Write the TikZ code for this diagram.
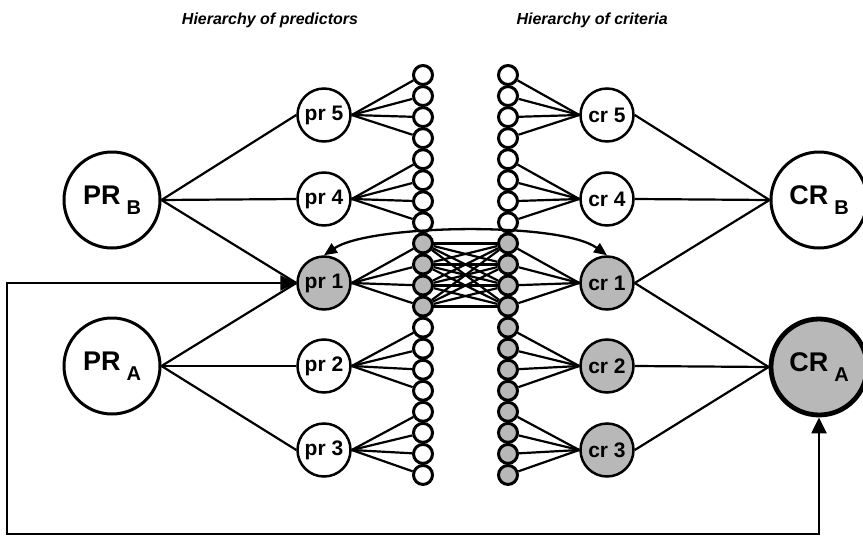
\documentclass[tikz,border=0pt]{standalone}
\usepackage{fontspec}
\setmainfont{Liberation Sans}
\usetikzlibrary{arrows.meta}

\begin{document}
\begin{tikzpicture}[x=1pt,y=-1pt,
  big/.style={circle,draw,line width=3pt,minimum size=96pt,inner sep=0pt,
    font=\fontsize{27}{27}\selectfont\bfseries},
  mid/.style={circle,draw,line width=2.5pt,minimum size=53pt,inner sep=0pt,
    font=\fontsize{21}{21}\selectfont\bfseries},
  unit/.style={circle,draw,line width=3pt,minimum size=19pt,inner sep=0pt},
  shaded/.style={fill=black!28},
  link/.style={line width=2.2pt},
  title/.style={font=\fontsize{16}{16}\selectfont\bfseries\itshape},
  fb/.style={line width=2.3pt,{Triangle[length=16pt,width=15pt]}-{Triangle[length=16pt,width=15pt]}},
  swap/.style={line width=2.3pt,{Triangle[length=13pt,width=11pt]}-{Triangle[length=13pt,width=11pt]}},
]
\useasboundingbox (0,0) rectangle (863,541);

% column headings
\node[title] (tp) at (270,20) {Hierarchy of predictors};
\node[title,anchor=west] (tc) at (513,20) {Hierarchy of criteria};

% broad constructs
\node[big] (PRB) at (112,200) {PR\hspace{0.22em}\raisebox{-0.37em}{\fontsize{20}{20}\selectfont B}};
\node[big] (PRA) at (112,366) {PR\hspace{0.22em}\raisebox{-0.37em}{\fontsize{20}{20}\selectfont A}};
\node[big] (CRB) at (819,200) {CR\hspace{0.22em}\raisebox{-0.37em}{\fontsize{20}{20}\selectfont B}};
\node[big,shaded,line width=4.8pt] (CRA) at (819,367) {CR\hspace{0.22em}\raisebox{-0.37em}{\fontsize{20}{20}\selectfont A}};

% narrow predictors and criteria
\node[mid] (pr5) at (324,115) {pr 5};
\node[mid] (pr4) at (324,199) {pr 4};
\node[mid,shaded] (pr1) at (324,283) {pr 1};
\node[mid] (pr2) at (324,366) {pr 2};
\node[mid] (pr3) at (324,450) {pr 3};
\node[mid] (cr5) at (607,115) {cr 5};
\node[mid] (cr4) at (607,199) {cr 4};
\node[mid,shaded] (cr1) at (607,283) {cr 1};
\node[mid,shaded] (cr2) at (607,366) {cr 2};
\node[mid,shaded] (cr3) at (607,450) {cr 3};

% item columns
\foreach \i in {0,...,19}{
  \ifnum\i<8 \def\lf{white}\else\ifnum\i<12 \def\lf{black!28}\else\def\lf{white}\fi\fi
  \ifnum\i<8 \def\rf{white}\else\def\rf{black!28}\fi
  \node[unit,fill=\lf] (L\i) at (423,{75+21.05*\i}) {};
  \node[unit,fill=\rf] (R\i) at (508,{75+21.05*\i}) {};
}

% construct to facet links
\foreach \n in {5,4,1}{\draw[link] (PRB.east) -- (pr\n.west);}
\foreach \n in {1,2,3}{\draw[link] (PRA.east) -- (pr\n.west);}
\foreach \n in {5,4,1}{\draw[link] (cr\n.east) -- (CRB.west);}
\foreach \n in {1,2,3}{\draw[link] (cr\n.east) -- (CRA.west);}

% facet to item fans
\foreach \n/\g in {5/0,4/1,1/2,2/3,3/4}{
  \foreach \k in {0,...,3}{
    \pgfmathtruncatemacro\j{4*\g+\k}
    \draw[link] (pr\n.east) -- (L\j);
    \draw[link] (cr\n.west) -- (R\j);
  }
}

% item cross links
\foreach \a in {8,...,11}{
  \foreach \b in {8,...,11}{
    \draw[link] (L\a) -- (R\b);
  }
}

% lateral arc between pr 1 and cr 1
\draw[swap] (pr1.north) .. controls +(46,-31) and +(-47,-34) .. (cr1.north);

% feedback loop
\coordinate (fbL) at (7,0);
\coordinate (fbB) at (0,534);
\draw[fb] (pr1.west) -- (pr1.west -| fbL) |- (CRA.south |- fbB) -- (CRA.south);
\end{tikzpicture}
\end{document}
